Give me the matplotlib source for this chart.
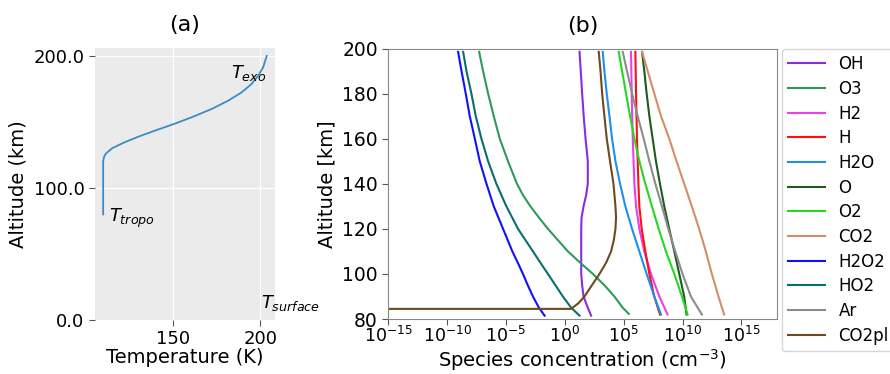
import numpy as np
import matplotlib
matplotlib.use("Agg")
import matplotlib.pyplot as plt
from matplotlib.ticker import NullLocator, FormatStrFormatter

# (a) temperature profile
temp_alt = [80, 100, 120, 123, 125.8, 130, 134.3, 139.3, 143.8, 148.3, 153.8, 160,
            166.3, 172.5, 178.8, 185, 191.3, 200]
temp_K = [109.6, 109.6, 109.6, 110.0, 111.0, 114.7, 121.4, 130.8, 140.2, 150, 161, 172.3,
          181.7, 189.3, 194.9, 198.7, 201.5, 203.6]

# (b) species profiles, log10 of concentration in cm^-3
alt = [82, 90, 100, 110, 120, 130, 140, 150, 160, 170, 180, 190, 198.5]

species = ["OH", "O3", "H2", "H", "H2O", "O", "O2", "CO2", "H2O2", "HO2", "Ar", "CO2pl"]
colors = ["#8a2be2", "#2e9a5a", "#ee3ee8", "#ff1010", "#1e8ff0", "#1f5a1f",
          "#22d822", "#d58c68", "#1010ff", "#0b6e6e", "#8c8c8c", "#6f4a1f"]

alt_oh = [81.5, 85, 90, 95, 100, 110, 120, 125, 130, 135, 140, 150, 160, 170, 180, 190, 198.5]
log_oh = [2.23, 1.95, 1.59, 1.47, 1.39, 1.39, 1.39, 1.42, 1.59, 1.81, 1.95, 1.95, 1.76,
          1.6, 1.47, 1.35, 1.25]

alt_o3 = [82.3, 85, 90, 95, 100, 105, 110, 115, 120, 125, 130, 135, 140, 150, 160,
          170, 180, 190, 198.5]
log_o3 = [5.43, 4.92, 4.21, 3.36, 2.38, 1.30, 0.26, -0.59, -1.44, -2.20, -2.93, -3.56,
          -4.07, -4.83, -5.53, -6.04, -6.52, -6.95, -7.28]

log_h2 = [8.73, 8.03, 7.32, 6.75, 6.33, 6.05, 5.91, 5.84, 5.77, 5.72, 5.68, 5.65, 5.62]
log_h = [8.08, 7.60, 7.18, 6.84, 6.53, 6.33, 6.25, 6.19, 6.13, 6.09, 6.05, 6.02, 5.99]
log_h2o = [8.17, 7.60, 6.95, 6.33, 5.71, 5.14, 4.69, 4.30, 4.01, 3.79, 3.56, 3.36, 3.22]
log_o = [10.34, 10.14, 9.72, 9.30, 8.87, 8.45, 8.08, 7.74, 7.46, 7.18, 6.95, 6.75, 6.56]
log_o2 = [10.43, 9.95, 9.30, 8.59, 7.97, 7.40, 6.84, 6.33, 5.91, 5.54, 5.20, 4.86, 4.58]
log_co2 = [13.53, 13.05, 12.49, 11.98, 11.41, 10.79, 10.14, 9.49, 8.87, 8.17, 7.60, 7.04, 6.56]
log_ar = [11.64, 10.71, 10.0, 9.38, 8.79, 8.25, 7.69, 7.18, 6.70, 6.19, 5.71, 5.28, 4.92]

alt_low = [81.5, 85, 90, 95, 100, 105, 110, 120, 130, 140, 150, 160, 170, 180, 190, 198.5]
log_h2o2 = [-1.72, -2.2, -2.71, -3.15, -3.56, -4.0, -4.46, -5.25, -6.04, -6.66, -7.23,
            -7.65, -8.08, -8.42, -8.78, -9.07]
log_ho2 = [1.25, 0.54, -0.17, -0.80, -1.44, -2.08, -2.71, -3.98, -4.97, -5.82, -6.52,
           -7.09, -7.57, -7.94, -8.36, -8.64]

alt_co2pl = [81.5, 84.4, 84.5, 87, 90, 95, 100, 105, 110, 115, 120, 125, 130,
             140, 150, 160, 170, 180, 190, 198.5]
log_co2pl = [-300, -300, 0.54, 1.15, 1.67, 2.3, 2.94, 3.51, 3.93, 4.16, 4.30, 4.35, 4.30,
             4.13, 3.84, 3.56, 3.36, 3.17, 3.03, 2.88]

profiles = {
    "OH": (alt_oh, log_oh), "O3": (alt_o3, log_o3), "H2": (alt, log_h2), "H": (alt, log_h),
    "H2O": (alt, log_h2o), "O": (alt, log_o), "O2": (alt, log_o2), "CO2": (alt, log_co2),
    "H2O2": (alt_low, log_h2o2), "HO2": (alt_low, log_ho2), "Ar": (alt, log_ar),
    "CO2pl": (alt_co2pl, log_co2pl),
}

fig = plt.figure(figsize=(8.9, 3.74), dpi=100)

# ---- panel (a)
ax1 = fig.add_axes([0.1067, 0.1444, 0.2022, 0.7273])
ax1.set_facecolor("#EBEBEB")
ax1.plot(temp_K, temp_alt, color="#3a8cc8", lw=1.3)
ax1.set_ylim(0, 206)
ax1.set_xticks([150, 200])
ax1.set_yticks([0, 100, 200])
ax1.yaxis.set_major_formatter(FormatStrFormatter("%.1f"))
ax1.grid(True, color="white", lw=0.9)
ax1.set_axisbelow(True)
for s in ax1.spines.values():
    s.set_visible(False)
ax1.tick_params(labelsize=13, color="#555555", length=4)
ax1.set_xlabel("Temperature (K)", fontsize=14, labelpad=0)
ax1.set_ylabel("Altitude (km)", fontsize=14)
ax1.set_title("(a)", fontsize=16, pad=12)
ax1.text(183, 183, r"$T_{exo}$", fontsize=13)
ax1.text(113, 74, r"$T_{tropo}$", fontsize=13)
ax1.text(200.5, 9, r"$T_{surface}$", fontsize=13)

# ---- panel (b)
ax2 = fig.add_axes([0.4363, 0.147, 0.4364, 0.7233])
for name, c in zip(species, colors):
    a, v = profiles[name]
    ax2.plot(10.0 ** np.array(v), a, color=c, lw=1.5, label=name)
ax2.set_xscale("log")
ax2.set_xlim(1e-15, 1e18)
ax2.set_ylim(80, 200)
ax2.set_xticks([10.0 ** k for k in range(-15, 16, 5)])
ax2.xaxis.set_minor_locator(NullLocator())
for s in ax2.spines.values():
    s.set_color("#888888")
ax2.tick_params(color="#555555", length=4)
ax2.tick_params(axis="x", labelsize=12.5, pad=1)
ax2.tick_params(axis="y", labelsize=13.5)
ax2.set_xlabel("Species concentration (cm$^{-3}$)", fontsize=14, labelpad=1)
ax2.set_ylabel("Altitude [km]", fontsize=14)
ax2.set_title("(b)", fontsize=16, pad=12)
ax2.legend(loc="upper left", bbox_to_anchor=(1.013, 1.0), borderaxespad=0,
           fontsize=12, handlelength=2.2, handletextpad=0.8, labelspacing=0.4)

fig.savefig("out.png", dpi=100)
